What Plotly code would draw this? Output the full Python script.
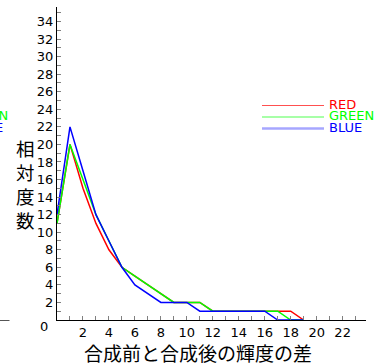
import plotly.graph_objects as go

# ---- data ----
diff = list(range(0, 20))
red = [11, 20, 15, 11, 8, 6, 5, 4, 3, 2, 2, 2, 1, 1, 1, 1, 1, 1, 1, 0]
green = [11, 20, 16, 12, 9, 6, 5, 4, 3, 2, 2, 2, 1, 1, 1, 1, 1, 1, 0, 0]
blue = [12, 22, 17, 12, 9, 6, 4, 3, 2, 2, 2, 1, 1, 1, 1, 1, 1, 0, 0, 0]
series_names = ["RED", "GREEN", "BLUE"]
series_colors = ["#ff0000", "#00ff00", "#0000ff"]
x_ticks = list(range(2, 23, 2))
y_ticks = list(range(2, 35, 2))
x_title = "合成前と合成後の輝度の差"
y_title = "相対度数"

W, H = 380, 363
L, R, T, B = 57, 14, 7, 43
PW, PH = W - L - R, H - T - B


def px_x(px):
    return (px - L) / PW


def px_y(py):
    return (H - B - py) / PH


fig = go.Figure()
for name, col, vals in zip(series_names, series_colors, [red, green, blue]):
    fig.add_trace(go.Scatter(x=diff, y=vals, mode="lines", name=name,
                             line=dict(color=col, width=1.5), showlegend=False,
                             cliponaxis=False, hoverinfo="skip"))

tickfont = dict(family="DejaVu Sans", size=13, color="black")
fig.update_xaxes(range=[0, 23.8], tickvals=x_ticks, ticktext=[str(v) for v in x_ticks],
                 showline=True, linecolor="black", linewidth=1, showgrid=False, zeroline=False,
                 ticks="inside", ticklen=4, tickcolor="gray",
                 minor=dict(dtick=1, tick0=0, ticks="inside", ticklen=4, tickcolor="gray"),
                 tickfont=tickfont)
fig.update_yaxes(range=[0, 35.65], tickvals=y_ticks, ticktext=[str(v) for v in y_ticks],
                 showline=True, linecolor="black", linewidth=1, showgrid=False, zeroline=False,
                 ticks="inside", ticklen=4, tickcolor="gray",
                 minor=dict(dtick=1, tick0=0, ticks="inside", ticklen=4, tickcolor="gray"),
                 tickfont=tickfont)

ann = []
# origin label
ann.append(dict(x=px_x(43.5), y=px_y(326), xref="paper", yref="paper", text="0",
                showarrow=False, font=tickfont, xanchor="center", yanchor="middle"))
# axis titles
cjk = "Noto Sans CJK JP"
ann.append(dict(x=px_x(198), y=px_y(352), xref="paper", yref="paper", text=x_title,
                showarrow=False, font=dict(family=cjk, size=19, color="black"),
                xanchor="center", yanchor="middle"))
ann.append(dict(x=px_x(25), y=px_y(184), xref="paper", yref="paper",
                text="<br>".join(list(y_title)), showarrow=False,
                font=dict(family=cjk, size=18.5, color="black"),
                xanchor="center", yanchor="middle"))

# legend (manual)
shapes = []
leg_text_y = [104, 115.5, 127]
leg_line_y = [105.5, 117, 128.5]
leg_line_w = [1.2, 1.2, 2.5]
leg_line_c = ["#ff5050", "#50ff50", "rgba(0,0,255,0.35)"]
clip_right = [-8, 10, 4.5]  # right edges of the clipped copy at the far left
for i, (name, col) in enumerate(zip(series_names, series_colors)):
    shapes.append(dict(type="line", xref="paper", yref="paper",
                       x0=px_x(262), x1=px_x(324), y0=px_y(leg_line_y[i]), y1=px_y(leg_line_y[i]),
                       line=dict(color=leg_line_c[i], width=leg_line_w[i])))
    ann.append(dict(x=px_x(327), y=px_y(leg_text_y[i]), xref="paper", yref="paper",
                    text=name, showarrow=False, xanchor="left", yanchor="middle",
                    font=dict(family="DejaVu Sans", size=13, color=col)))
    ann.append(dict(x=px_x(clip_right[i]), y=px_y(leg_text_y[i]), xref="paper", yref="paper",
                    text=name, showarrow=False, xanchor="right", yanchor="middle",
                    font=dict(family="DejaVu Sans", size=13, color=col)))
# clipped neighbour axis at far left
shapes.append(dict(type="line", xref="paper", yref="paper", x0=px_x(-5), x1=px_x(9.5),
                   y0=px_y(320.5), y1=px_y(320.5), line=dict(color="#555555", width=1)))

fig.update_layout(width=W, height=H, margin=dict(l=L, r=R, t=T, b=B),
                  paper_bgcolor="white", plot_bgcolor="white",
                  annotations=ann, shapes=shapes, showlegend=False, hovermode=False)
fig.write_html("out.html", config={"displayModeBar": False},
               post_script="document.body.style.margin='0px';document.body.style.overflow='hidden';")
